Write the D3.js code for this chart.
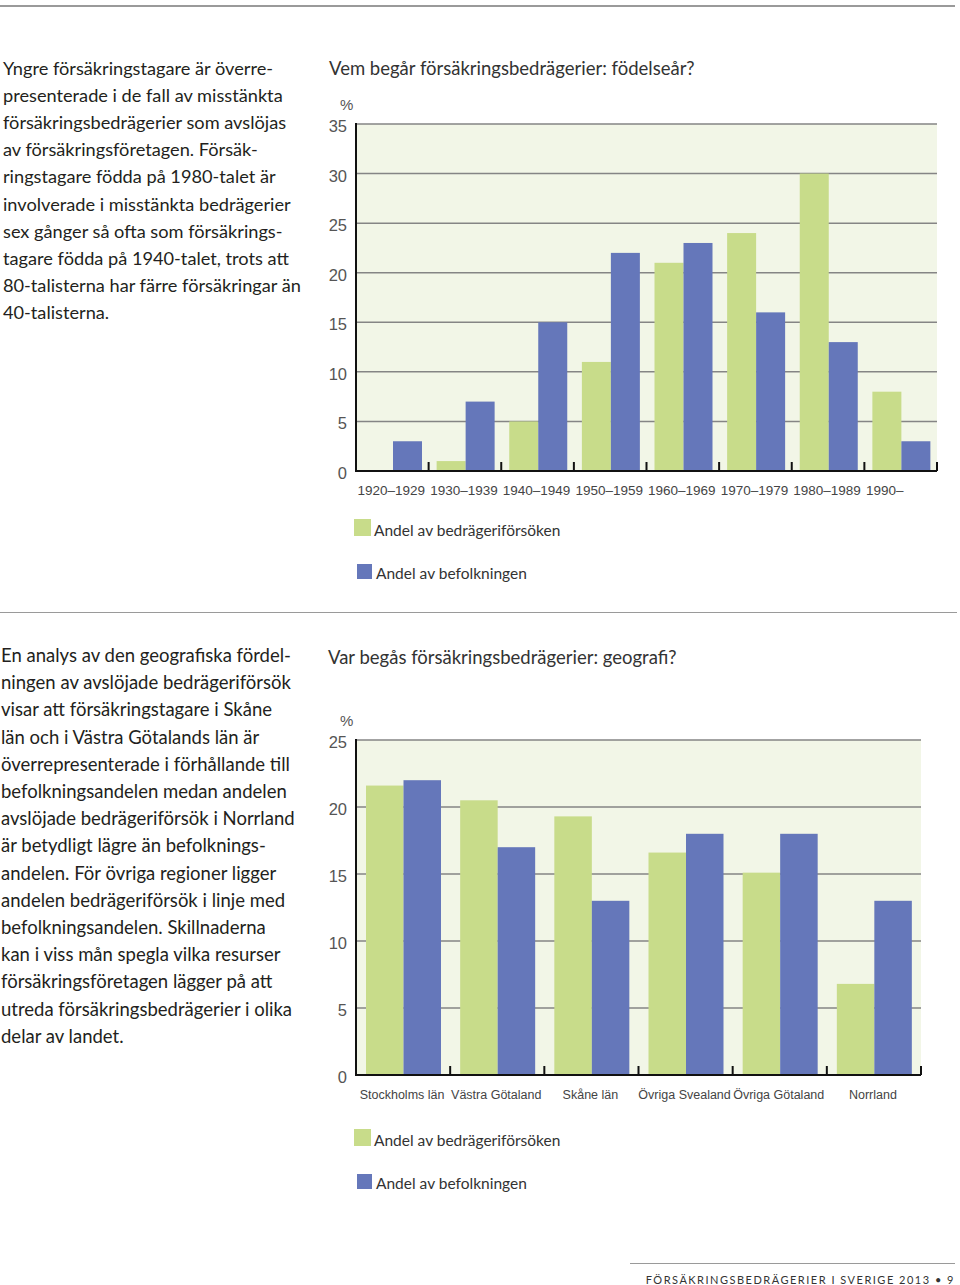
<!DOCTYPE html>
<html><head><meta charset="utf-8">
<script src="https://cdn.jsdelivr.net/npm/d3@7"></script>
<style>body{margin:0;background:#fff}svg{display:block}</style>
</head><body>
<svg id="c" width="960" height="1285"></svg>
<script>
// ---------- data ----------
const birthCats = ["1920–1929","1930–1939","1940–1949","1950–1959","1960–1969","1970–1979","1980–1989","1990–"];
const birthFraud = [0, 1, 5, 11, 21, 24, 30, 8];
const birthPop   = [3, 7, 15, 22, 23, 16, 13, 3];
const birthTicks = [0,5,10,15,20,25,30,35];

const geoCats = ["Stockholms län","Västra Götaland","Skåne län","Övriga Svealand","Övriga Götaland","Norrland"];
const geoFraud = [21.6, 20.5, 19.3, 16.6, 15.1, 6.8];
const geoPop   = [22, 17, 13, 18, 18, 13];
const geoTicks = [0,5,10,15,20,25];

const seriesNames = ["Andel av bedrägeriförsöken","Andel av befolkningen"];

const text1 = ["Yngre försäkringstagare är överre-","presenterade i de fall av misstänkta","försäkringsbedrägerier som avslöjas","av försäkringsföretagen. Försäk-","ringstagare födda på 1980-talet är","involverade i misstänkta bedrägerier","sex gånger så ofta som försäkrings-","tagare födda på 1940-talet, trots att","80-talisterna har färre försäkringar än","40-talisterna."];
const text2 = ["En analys av den geografiska fördel-","ningen av avslöjade bedrägeriförsök","visar att försäkringstagare i Skåne","län och i Västra Götalands län är","överrepresenterade i förhållande till","befolkningsandelen medan andelen","avslöjade bedrägeriförsök i Norrland","är betydligt lägre än befolknings-","andelen. För övriga regioner ligger","andelen bedrägeriförsök i linje med","befolkningsandelen. Skillnaderna","kan i viss mån spegla vilka resurser","försäkringsföretagen lägger på att","utreda försäkringsbedrägerier i olika","delar av landet."];

const GREEN = "#c8dc8a", BLUE = "#6577ba", BG = "#f2f6e7";
const svg = d3.select("#c");
const bodyFont = "Lato, 'Open Sans', sans-serif";
const tickFont = "'Liberation Sans', Arial, sans-serif";

// separators
svg.append("line").attr("x1",0).attr("x2",955).attr("y1",6).attr("y2",6).attr("stroke","#9a9a9a").attr("stroke-width",2);
svg.append("line").attr("x1",0).attr("x2",957).attr("y1",612.5).attr("y2",612.5).attr("stroke","#9a9a9a").attr("stroke-width",1.2);
svg.append("line").attr("x1",630).attr("x2",955).attr("y1",1263.5).attr("y2",1263.5).attr("stroke","#9a9a9a").attr("stroke-width",1);
svg.append("text").attr("x",955).attr("y",1284).attr("text-anchor","end").attr("font-family",bodyFont)
  .attr("font-size",11).attr("letter-spacing","1.5px").attr("fill","#333").text("FÖRSÄKRINGSBEDRÄGERIER I SVERIGE 2013 • 9");

function para(lines, x, y0, lh, size){
  const t = svg.append("text").attr("font-family",bodyFont).attr("font-size",size).attr("fill","#231f20");
  lines.forEach((l,i)=>t.append("tspan").attr("x",x).attr("y",y0+i*lh).text(l));
}
para(text1, 3, 75, 27.1, 18.2);
para(text2, 1, 662, 27.2, 18.5);

function chart(o){
  const g = svg.append("g");
  const x0 = d3.scaleBand().domain(o.cats).range([o.left,o.right]).padding(0);
  const x1 = d3.scaleBand().domain(["f","p"]).range([o.inner[0], o.inner[1]]).padding(0);
  const y = d3.scaleLinear().domain([0,o.max]).range([o.bottom,o.top]);
  // title
  g.append("text").attr("x",o.titleX).attr("y",o.titleY).attr("font-family",bodyFont).attr("font-size",18.5)
    .attr("fill","#333").text(o.title);
  g.append("text").attr("x",340).attr("y",y(o.max)-14).attr("font-family",tickFont).attr("font-size",15)
    .attr("fill","#555").text("%");
  // background
  g.append("rect").attr("x",o.left).attr("y",y(o.max)).attr("width",o.right-o.left).attr("height",o.bottom-y(o.max)).attr("fill",BG);
  // gridlines
  g.selectAll(".grid").data(o.ticks.filter(d=>d>0)).join("line")
    .attr("x1",o.left).attr("x2",o.right).attr("y1",d=>y(d)).attr("y2",d=>y(d))
    .attr("stroke","#858585").attr("stroke-width",1.5);
  // bars
  o.cats.forEach((c,i)=>{
    [["f",o.fraud[i],GREEN],["p",o.pop[i],BLUE]].forEach(([k,v,col])=>{
      if(v>0) g.append("rect").attr("x",x0(c)+x1(k)).attr("width",x1.bandwidth())
        .attr("y",y(v)).attr("height",y(0)-y(v)).attr("fill",col);
    });
  });
  // y axis
  const ya = g.append("g").attr("transform",`translate(${o.left},0)`)
    .call(d3.axisLeft(y).tickValues(o.ticks).tickSize(0).tickPadding(9));
  ya.select(".domain").remove();
  ya.selectAll("text").attr("font-family",tickFont).attr("font-size",16.5).attr("fill","#555").attr("dy","0.45em");
  g.append("line").attr("x1",o.left).attr("x2",o.left).attr("y1",y(o.max)-1).attr("y2",o.bottom+1).attr("stroke","#111").attr("stroke-width",2);
  // x axis
  g.append("line").attr("x1",o.left).attr("x2",o.right).attr("y1",o.bottom).attr("y2",o.bottom).attr("stroke","#111").attr("stroke-width",2);
  g.selectAll(".tk").data(o.cats.slice(1).concat(["__end"])).join("line")
    .attr("x1",(d,i)=>i<o.cats.length-1?x0(d):o.right).attr("x2",(d,i)=>i<o.cats.length-1?x0(d):o.right)
    .attr("y1",o.bottom-9).attr("y2",o.bottom).attr("stroke","#111").attr("stroke-width",2);
  g.selectAll(".xl").data(o.cats).join("text")
    .attr("x",d=>o.labStart ? x0(d)+o.labDx : x0(d)+x0.bandwidth()/2+o.labDx).attr("y",o.bottom+24)
    .attr("text-anchor",o.labStart?"start":"middle")
    .attr("font-family",tickFont).attr("font-size",o.labSize).attr("fill","#444").text(d=>d);
  // legend
  const L = o.legendY;
  g.append("rect").attr("x",354).attr("y",L).attr("width",17).attr("height",17).attr("fill",GREEN);
  g.append("text").attr("x",374).attr("y",L+17).attr("font-family",bodyFont).attr("font-size",15.5).attr("fill","#333").text(seriesNames[0]);
  g.append("rect").attr("x",357).attr("y",L+45).attr("width",15).attr("height",15).attr("fill",BLUE);
  g.append("text").attr("x",376).attr("y",L+60).attr("font-family",bodyFont).attr("font-size",15.5).attr("fill","#333").text(seriesNames[1]);
}

chart({cats:birthCats,fraud:birthFraud,pop:birthPop,ticks:birthTicks,max:35,left:356,right:937,top:124,bottom:471,
  inner:[8,66],title:"Vem begår försäkringsbedrägerier: födelseår?",titleX:329,titleY:75,labStart:true,labDx:1.5,labSize:13.5,legendY:519});
chart({cats:geoCats,fraud:geoFraud,pop:geoPop,ticks:geoTicks,max:25,left:356,right:921,top:740,bottom:1075,
  inner:[10,85],title:"Var begås försäkringsbedrägerier: geografi?",titleX:328,titleY:664,labStart:false,labDx:-1,labSize:12.5,legendY:1129});
</script>
</body></html>
